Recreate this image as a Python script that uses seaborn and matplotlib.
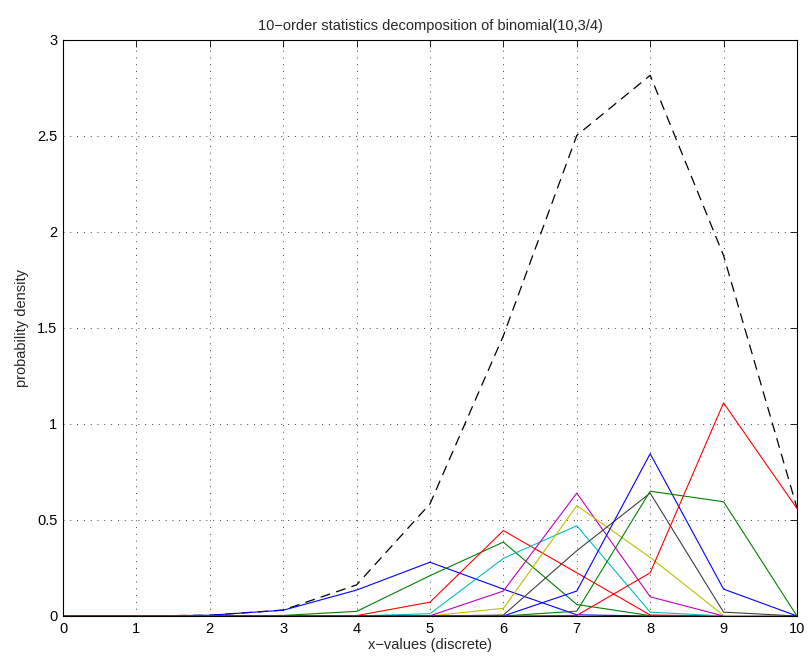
import numpy as np
import pandas as pd
import seaborn as sns
import matplotlib.pyplot as plt

x_vals = list(range(11))

# order statistics k=1..10
os1 = [0, 0, 0.004, 0.03, 0.135, 0.28, 0.14, 0.006, 0, 0, 0]
os2 = [0, 0, 0, 0.003, 0.024, 0.21, 0.385, 0.06, 0.002, 0, 0]
os3 = [0, 0, 0, 0, 0.002, 0.072, 0.445, 0.225, 0.005, 0, 0]
os4 = [0, 0, 0, 0, 0, 0.012, 0.30, 0.47, 0.02, 0, 0]
os5 = [0, 0, 0, 0, 0, 0.001, 0.13, 0.64, 0.10, 0, 0]
os6 = [0, 0, 0, 0, 0, 0, 0.04, 0.575, 0.305, 0.003, 0]
os7 = [0, 0, 0, 0, 0, 0, 0.005, 0.34, 0.64, 0.02, 0]
os8 = [0, 0, 0, 0, 0, 0, 0, 0.13, 0.845, 0.14, 0]
os9 = [0, 0, 0, 0, 0, 0, 0, 0.025, 0.65, 0.595, 0]
os10 = [0, 0, 0, 0, 0, 0, 0, 0.003, 0.225, 1.11, 0.56]

# total (dashed)
total = [0.00001, 0.0003, 0.004, 0.031, 0.162, 0.584, 1.46, 2.503, 2.816, 1.877, 0.563]

series = [os1, os2, os3, os4, os5, os6, os7, os8, os9, os10]
matlab_colors = [(0, 0, 1), (0, 0.5, 0), (1, 0, 0), (0, 0.75, 0.75),
                 (0.75, 0, 0.75), (0.75, 0.75, 0), (0.25, 0.25, 0.25),
                 (0, 0, 1), (0, 0.5, 0), (1, 0, 0)]

rows = []
for k, vals in enumerate(series, start=1):
    for xv, yv in zip(x_vals, vals):
        rows.append({'x': xv, 'p': yv, 'order': k})
df = pd.DataFrame(rows)
df_total = pd.DataFrame({'x': x_vals, 'p': total})

sns.set_style("white")
plt.rcParams['font.family'] = ['Liberation Sans', 'DejaVu Sans']

fig = plt.figure(figsize=(8.11, 6.64), dpi=100)
ax = fig.add_axes([0.0777, 0.0723, 0.905, 0.8675])

sns.lineplot(data=df_total, x='x', y='p', color='k', linestyle=(0, (8, 5)),
             linewidth=0.9, ax=ax, legend=False)
sns.lineplot(data=df, x='x', y='p', hue='order', palette=matlab_colors,
             linewidth=0.8, ax=ax, legend=False)

ax.set_xlim(0, 10)
ax.set_ylim(0, 3)
ax.set_xticks(range(11))
ax.set_yticks([0, 0.5, 1, 1.5, 2, 2.5, 3])
ax.set_yticklabels(['0', '0.5', '1', '1.5', '2', '2.5', '3'])
ax.grid(True, linestyle=(0, (1, 6)), color='k', linewidth=0.7, alpha=0.75)
ax.tick_params(direction='in', top=True, right=True, length=5, width=0.6,
               labelsize=10.5, pad=4, colors='k')
for sp in ax.spines.values():
    sp.set_color('k')
    sp.set_linewidth(0.8)

ax.set_xlabel('x\u2212values (discrete)', fontsize=10.5, labelpad=2)
ax.set_ylabel('probability density', fontsize=10.5, labelpad=6)
ax.set_title('10\u2212order statistics decomposition of binomial(10,3/4)',
             fontsize=10.5, pad=7)

fig.savefig('out.png', dpi=100)
